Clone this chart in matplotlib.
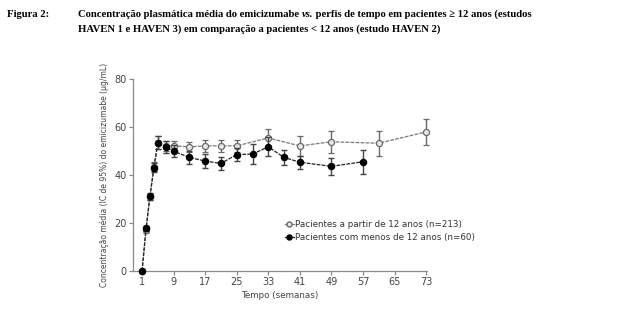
import matplotlib.pyplot as plt
from matplotlib.lines import Line2D

# semanas e concentrações médias (µg/mL) com meia-amplitude do IC 95%
weeks_adult = [1, 2, 3, 4, 5, 7, 9, 13, 17, 21, 25, 33, 41, 49, 61, 73]
conc_adult = [0, 17.0, 30.8, 43.3, 53.3, 51.9, 52.0, 51.6, 52.0, 52.0, 52.0, 55.3, 52.0, 53.7, 53.1, 57.8]
ci_adult = [0, 1.0, 1.3, 1.8, 2.6, 2.2, 2.2, 2.0, 2.4, 2.4, 2.6, 3.7, 4.0, 4.6, 5.2, 5.4]

weeks_child = [1, 2, 3, 4, 5, 7, 9, 13, 17, 21, 25, 29, 33, 37, 41, 49, 57]
conc_child = [0, 17.7, 31.1, 42.9, 53.3, 51.6, 49.8, 47.2, 45.7, 44.7, 48.4, 48.6, 51.6, 47.2, 45.2, 43.5, 45.4]
ci_child = [0, 1.2, 1.4, 1.8, 2.6, 2.4, 2.5, 2.8, 2.8, 2.6, 2.6, 4.3, 4.0, 3.0, 2.8, 3.4, 4.9]

label_adult = "Pacientes a partir de 12 anos (n=213)"
label_child = "Pacientes com menos de 12 anos (n=60)"
xticks = [1, 9, 17, 25, 33, 41, 49, 57, 65, 73]
yticks = [0, 20, 40, 60, 80]

fig = plt.figure(figsize=(6.2, 3.26), dpi=100)
fig.patch.set_facecolor("white")
renderer = fig.canvas.get_renderer()

serif = ["Liberation Serif", "DejaVu Serif"]
title_size = 7.7


def put_text_run(x, y, pieces):
    # escreve vários trechos em sequência na mesma linha
    for text, style in pieces:
        t = fig.text(x, y, text, family=serif, weight="bold", style=style,
                     fontsize=title_size, va="baseline")
        bb = t.get_window_extent(renderer)
        x = fig.transFigure.inverted().transform((bb.x1, bb.y0))[0]


fig.text(0.011, 0.948, "Figura 2:", family=serif, weight="bold", fontsize=title_size, va="baseline")
put_text_run(0.126, 0.948, [
    ("Concentração plasmática média do emicizumabe ", "normal"),
    ("vs.", "italic"),
    (" perfis de tempo em pacientes ≥ 12 anos (estudos", "normal"),
])
put_text_run(0.126, 0.902, [
    ("HAVEN 1 e HAVEN 3) em comparação a pacientes < 12 anos (estudo HAVEN 2)", "normal"),
])

ax = fig.add_axes([0.2145, 0.1687, 0.474, 0.5905])

ax.errorbar(weeks_adult, conc_adult, yerr=ci_adult, color="#7a7a7a", ecolor="#6a6a6a",
            elinewidth=1.0, capsize=2.2, capthick=1.0, linestyle=(0, (3, 1)), linewidth=0.9,
            marker="o", markersize=4.4, markerfacecolor="#e8e8e8", markeredgecolor="#6a6a6a",
            markeredgewidth=0.9, clip_on=False, zorder=3)
ax.errorbar(weeks_child, conc_child, yerr=ci_child, color="#222222", ecolor="#444444",
            elinewidth=1.0, capsize=2.2, capthick=1.0, linestyle=(0, (3, 1)), linewidth=0.9,
            marker="o", markersize=4.4, markerfacecolor="black", markeredgecolor="black",
            clip_on=False, zorder=4)

ax.set_xlim(-1.3, 73.2)
ax.set_ylim(0, 80)
ax.set_xticks(xticks)
ax.set_yticks(yticks)
for side in ("top", "right"):
    ax.spines[side].set_visible(False)
for side in ("left", "bottom"):
    ax.spines[side].set_color("#8a8a8a")
    ax.spines[side].set_linewidth(0.9)
ax.tick_params(axis="both", colors="#8a8a8a", labelcolor="#444444", labelsize=7,
               length=3, width=0.9, pad=1.5)

ax.set_xlabel("Tempo (semanas)", fontsize=6.3, color="#444444", labelpad=3)
ax.set_ylabel("Concentração média (IC de 95%) do emicizumabe (µg/mL)", fontsize=5.5,
              color="#444444", labelpad=4)

handles = [
    Line2D([], [], color="#7a7a7a", linewidth=0.9, marker="o", markersize=3.6,
           markerfacecolor="#e8e8e8", markeredgecolor="#6a6a6a"),
    Line2D([], [], color="#222222", linewidth=0.9, marker="o", markersize=3.6,
           markerfacecolor="black", markeredgecolor="black"),
]
leg = ax.legend(handles, [label_adult, label_child], loc="upper left",
                bbox_to_anchor=(0.505, 0.285), frameon=False, fontsize=6.3,
                handlelength=1.0, handletextpad=0.2, labelspacing=0.55, borderaxespad=0)
for t in leg.get_texts():
    t.set_color("#333333")

fig.savefig("out.png", dpi=100)
